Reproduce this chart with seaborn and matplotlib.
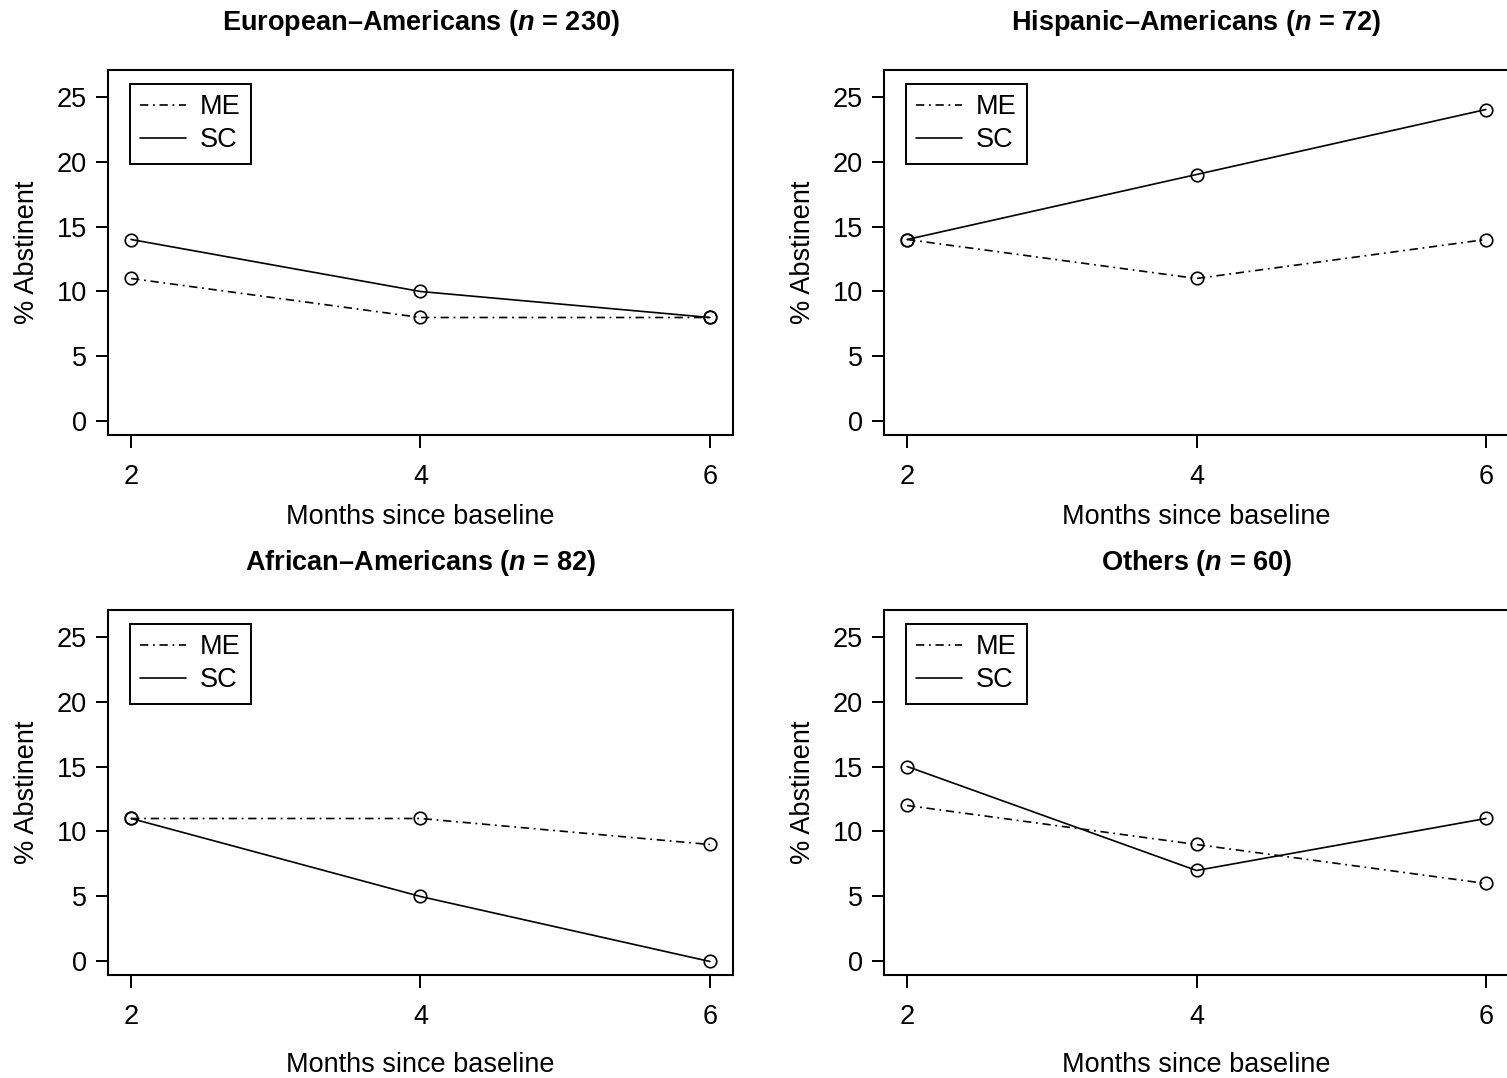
import matplotlib
matplotlib.use("Agg")
import matplotlib.pyplot as plt
from matplotlib.lines import Line2D
import seaborn as sns
import pandas as pd

months = [2, 4, 6]
groups = ["European\u2013Americans", "Hispanic\u2013Americans", "African\u2013Americans", "Others"]
group_n = [230, 72, 82, 60]
me_values = [[11, 8, 8], [14, 11, 14], [11, 11, 9], [12, 9, 6]]
sc_values = [[14, 10, 8], [14, 19, 24], [11, 5, 0], [15, 7, 11]]
y_ticks = [0, 5, 10, 15, 20, 25]
x_ticks = [2, 4, 6]

sns.set_style("ticks")
plt.rcParams["font.family"] = ["Liberation Sans", "DejaVu Sans"]
plt.rcParams["mathtext.fontset"] = "custom"
plt.rcParams["mathtext.it"] = "Liberation Sans:italic:bold"
plt.rcParams["mathtext.rm"] = "Liberation Sans:bold"
plt.rcParams["text.color"] = "black"
plt.rcParams["axes.labelcolor"] = "black"

W, H = 1507, 1078
fig = plt.figure(figsize=(W / 100, H / 100), dpi=100)

# panel boxes in pixel coords (left, top, right, bottom)
boxes = [(108, 70, 733, 435), (884, 70, 1509, 435),
         (108, 610, 733, 975), (884, 610, 1509, 975)]
xlabel_pads = [10, 10, 16, 16]

LW = 1.2
dotdash = (0, (5.0, 2.8, 1.1, 2.8))
FS = 19.5

for i, (name, n, me, sc) in enumerate(zip(groups, group_n, me_values, sc_values)):
    l, t, r, b = boxes[i]
    ax = fig.add_axes([l / W, 1 - b / H, (r - l) / W, (b - t) / H])
    df = pd.DataFrame({"month": months, "ME": me, "SC": sc})
    sns.lineplot(data=df, x="month", y="ME", ax=ax, color="black", lw=LW,
                 linestyle=dotdash, marker="o", markersize=9,
                 markerfacecolor="none", markeredgecolor="black", markeredgewidth=1.2)
    sns.lineplot(data=df, x="month", y="SC", ax=ax, color="black", lw=LW,
                 linestyle="-", marker="o", markersize=9,
                 markerfacecolor="none", markeredgecolor="black", markeredgewidth=1.2)
    ax.set_xlim(1.84, 6.16)
    ax.set_ylim(-1.04, 27.04)
    ax.set_xticks(x_ticks)
    ax.set_yticks(y_ticks)
    ax.set_xticklabels([str(v) for v in x_ticks])
    ax.set_yticklabels([str(v) for v in y_ticks])
    ax.tick_params(axis="both", direction="out", length=9, width=1.4, colors="black",
                   labelsize=FS, labelcolor="black")
    ax.tick_params(axis="x", pad=12)
    ax.tick_params(axis="y", pad=6)
    for s in ax.spines.values():
        s.set_visible(True)
        s.set_linewidth(1.5)
        s.set_color("black")
    ax.set_xlabel("Months since baseline", fontsize=FS, labelpad=xlabel_pads[i])
    ax.set_ylabel("% Abstinent", fontsize=FS, labelpad=12)
    ax.set_title(name + " ($n$ = %d)" % n, fontsize=FS, fontweight="bold", pad=29)
    handles = [Line2D([], [], color="black", lw=LW, linestyle=dotdash),
               Line2D([], [], color="black", lw=LW, linestyle="-")]
    leg = ax.legend(handles, ["ME", "SC"], loc="upper left", fontsize=FS,
                    frameon=True, fancybox=False, edgecolor="black", framealpha=1,
                    handlelength=1.7, handletextpad=0.5, labelspacing=0.26,
                    borderpad=0.38, borderaxespad=0,
                    bbox_to_anchor=(22 / (r - l), 1 - 14 / (b - t)))
    leg.get_frame().set_linewidth(1.4)

fig.savefig("out.png", dpi=100)
